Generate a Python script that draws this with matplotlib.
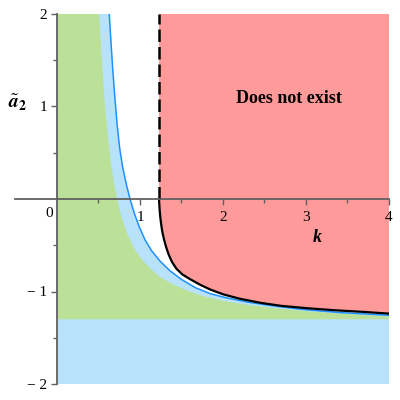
import numpy as np
import matplotlib
matplotlib.use("Agg")
import matplotlib.pyplot as plt

plt.rcParams["font.family"] = ["Liberation Serif", "DejaVu Serif"]
plt.rcParams["mathtext.fontset"] = "stix"

palette = {
    "green": "#BBE198",
    "lightblue": "#B7E2F9",
    "red": "#FF9A9A",
    "blueline": "#1E90FF",
    "axis": "#606060",
}

# plot range
k_min, k_max = 0.0, 4.0
y_min, y_max = -2.0, 2.0

# black boundary of the "does not exist" region
black_k = [1.229, 1.232, 1.237, 1.245, 1.256, 1.27, 1.29, 1.315, 1.345, 1.385,
           1.44, 1.51, 1.6, 1.72, 1.85, 2.0, 2.2, 2.45, 2.7, 3.0, 3.35, 3.7, 4.0]
black_y = [0.0, -0.05, -0.12, -0.2, -0.28, -0.36, -0.44, -0.52, -0.6, -0.68,
           -0.755, -0.815, -0.865, -0.925, -0.98, -1.03, -1.078, -1.122, -1.155,
           -1.18, -1.203, -1.221, -1.239]
k_dash = 1.229   # vertical dashed asymptote for a2 > 0

# thin blue curve
blue_k = [0.63, 0.65, 0.672, 0.697, 0.725, 0.755, 0.79, 0.835, 0.88, 0.93, 0.99,
          1.06, 1.14, 1.24, 1.36, 1.5, 1.67, 1.85, 2.05, 2.3, 2.6, 2.95, 3.4, 4.0]
blue_y = [2.0, 1.7, 1.4, 1.1, 0.8, 0.55, 0.35, 0.16, 0.0, -0.15, -0.3,
          -0.44, -0.56, -0.67, -0.775, -0.87, -0.96, -1.025, -1.07, -1.115,
          -1.155, -1.193, -1.227, -1.257]

# edge of the green region
green_k = [0.506, 0.53, 0.555, 0.58, 0.61, 0.645, 0.685, 0.725, 0.77, 0.83, 0.91,
           1.0, 1.1, 1.22, 1.37, 1.55, 1.76, 2.0, 2.3, 2.65, 3.0, 3.5, 4.0]
green_y = [2.0, 1.65, 1.3, 1.0, 0.7, 0.42, 0.18, 0.0, -0.17, -0.34, -0.5,
           -0.63, -0.73, -0.83, -0.91, -0.985, -1.05, -1.1, -1.145, -1.183,
           -1.212, -1.244, -1.27]
green_floor = -1.3

x_ticks = [1, 2, 3, 4]
x_minor = [0.5, 1.5, 2.5, 3.5]
y_ticks = [-2, -1, 1, 2]
y_minor = [-1.5, -0.5, 0.5, 1.5]

fig = plt.figure(figsize=(4, 4), dpi=100)
ax = fig.add_axes([15 / 400, 16 / 400, 374 / 400, 370 / 400])

# light blue: everything left/below the blue curve
lb_x = [k_min, k_max] + blue_k[::-1] + [k_min]
lb_y = [y_min, y_min] + blue_y[::-1] + [y_max]
ax.fill(lb_x, lb_y, color=palette["lightblue"], lw=0, zorder=1)

# green: left of its edge, above the floor
g_x = [k_min, k_max] + green_k[::-1] + [k_min]
g_y = [green_floor, green_floor] + green_y[::-1] + [y_max]
ax.fill(g_x, g_y, color=palette["green"], lw=0, zorder=1)

# red: right of the dashed line, above the black curve
r_x = [k_dash] + black_k + [k_max]
r_y = [y_max] + black_y + [y_max]
ax.fill(r_x, r_y, color=palette["red"], lw=0, zorder=1)

ax.plot(blue_k, blue_y, color=palette["blueline"], lw=1.1, zorder=2)
ax.plot(black_k, black_y, color="black", lw=1.6, zorder=2)
ax.vlines(k_dash, 0, y_max, colors="black", lw=1.8, linestyles=(0, (5, 2)), zorder=2)

ax.set_xlim(-0.506, k_max)
ax.set_ylim(y_min, y_max)
ax.patch.set_alpha(0)

for s in ["top", "right"]:
    ax.spines[s].set_visible(False)
ax.spines["left"].set_position(("data", 0))
ax.spines["bottom"].set_position(("data", 0))
for s in ["left", "bottom"]:
    ax.spines[s].set_color(palette["axis"])
    ax.spines[s].set_linewidth(1.3)
    ax.spines[s].set_zorder(3)

ax.set_xticks(x_ticks)
ax.set_xticks(x_minor, minor=True)
ax.set_yticks(y_ticks)
ax.set_yticks(y_minor, minor=True)
ax.set_xticklabels([str(v) for v in x_ticks])
ax.set_yticklabels([str(v).replace("-", "\u2212 ") for v in y_ticks])
ax.tick_params(which="both", direction="out", color=palette["axis"], labelsize=11)
ax.tick_params(which="major", length=4, width=1)
ax.tick_params(which="minor", length=3, width=1)
ax.tick_params(axis="x", pad=5)
ax.tick_params(axis="y", pad=3)
ax.text(-0.1, -0.16, "0", fontsize=11, ha="center", va="center")

ax.text(-0.48, 1.04, r"$\tilde{\mathbfit{a}}_{\mathbf{2}}$", fontsize=14,
        ha="center", va="center")
ax.text(3.13, -0.42, "k", fontsize=13, fontweight="bold", fontstyle="italic",
        ha="center", va="center")
ax.text(2.795, 1.09, "Does not exist", fontsize=13, fontweight="bold",
        ha="center", va="center")

fig.savefig("out.png", dpi=100)
